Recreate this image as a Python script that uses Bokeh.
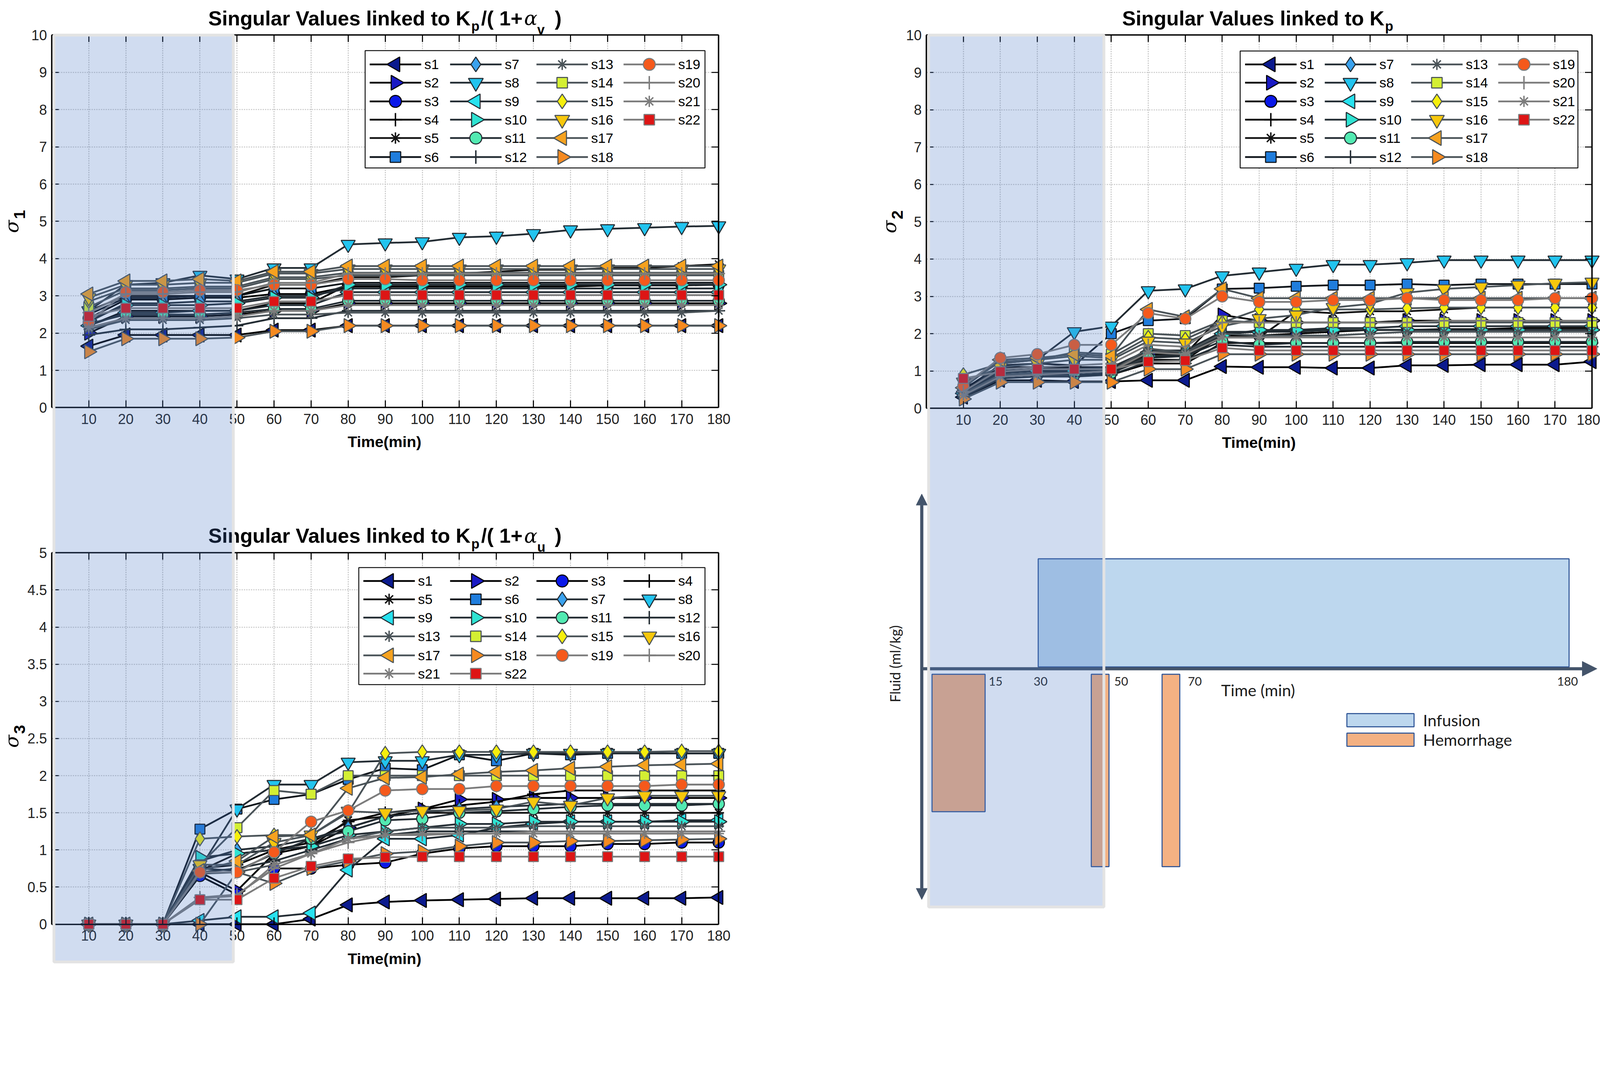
import math
from bokeh.plotting import figure
from bokeh.models import (Range1d, LinearAxis, FixedTicker, Grid, Legend, LegendItem,
                          CustomJSTickFormatter, Arrow, NormalHead)
from bokeh.core.properties import value
from bokeh.embed import file_html
from bokeh.resources import INLINE

# ---------------------------------------------------------------- data
time_min = [10, 20, 30, 40, 50, 60, 70, 80, 90, 100, 110, 120, 130, 140, 150, 160, 170, 180]
series_names = ["s%d" % i for i in range(1, 23)]
x_tick_values = [10, 20, 30, 40, 50, 60, 70, 80, 90, 100, 110, 120, 130, 140, 150, 160, 170, 180]
y_ticks_sigma12 = [0, 1, 2, 3, 4, 5, 6, 7, 8, 9, 10]
y_ticks_sigma3 = [0, 0.5, 1, 1.5, 2, 2.5, 3, 3.5, 4, 4.5, 5]

# sigma 1 : Kp/(1+alpha_v)
sig1_s1 = [1.65, 1.95, 1.95, 1.95, 1.95, 2.08, 2.08, 2.2, 2.2, 2.2, 2.2, 2.2, 2.2, 2.2, 2.2, 2.2, 2.2, 2.2]
sig1_s2 = [2.0, 2.45, 2.45, 2.45, 2.5, 2.6, 2.6, 2.8, 2.8, 2.8, 2.8, 2.8, 2.8, 2.8, 2.8, 2.8, 2.8, 2.8]
sig1_s3 = [2.4, 2.9, 2.9, 2.95, 2.95, 3.05, 3.05, 3.25, 3.25, 3.25, 3.25, 3.25, 3.25, 3.25, 3.28, 3.28, 3.28, 3.3]
sig1_s4 = [2.2, 2.6, 2.6, 2.6, 2.6, 2.8, 2.8, 3.3, 3.3, 3.3, 3.3, 3.3, 3.3, 3.3, 3.3, 3.3, 3.3, 3.3]
sig1_s5 = [2.6, 3.0, 3.0, 3.0, 3.0, 3.3, 3.3, 3.5, 3.5, 3.55, 3.6, 3.65, 3.7, 3.7, 3.75, 3.75, 3.8, 3.85]
sig1_s6 = [2.5, 2.95, 2.95, 3.0, 3.0, 3.2, 3.2, 3.35, 3.35, 3.35, 3.35, 3.35, 3.35, 3.35, 3.35, 3.35, 3.35, 3.35]
sig1_s7 = [2.3, 2.8, 2.8, 2.85, 2.85, 3.0, 3.0, 3.2, 3.2, 3.2, 3.2, 3.2, 3.2, 3.2, 3.2, 3.2, 3.2, 3.2]
sig1_s8 = [2.6, 3.3, 3.35, 3.55, 3.45, 3.75, 3.75, 4.38, 4.42, 4.45, 4.57, 4.6, 4.67, 4.77, 4.8, 4.83, 4.86, 4.88]
sig1_s9 = [2.2, 2.55, 2.55, 2.6, 2.6, 2.75, 2.75, 3.1, 3.1, 3.1, 3.1, 3.1, 3.1, 3.1, 3.1, 3.1, 3.1, 3.1]
sig1_s10 = [2.35, 2.75, 2.75, 2.75, 2.8, 2.95, 2.95, 3.3, 3.3, 3.3, 3.3, 3.3, 3.3, 3.3, 3.3, 3.3, 3.3, 3.3]
sig1_s11 = [2.25, 2.5, 2.5, 2.5, 2.55, 2.65, 2.65, 2.87, 2.87, 2.87, 2.87, 2.87, 2.87, 2.87, 2.87, 2.87, 2.87, 2.87]
sig1_s12 = [1.95, 2.1, 2.1, 2.15, 2.2, 2.4, 2.4, 2.6, 2.6, 2.6, 2.6, 2.6, 2.6, 2.6, 2.6, 2.6, 2.6, 2.6]
sig1_s13 = [2.1, 2.35, 2.35, 2.35, 2.4, 2.5, 2.5, 2.55, 2.55, 2.55, 2.55, 2.55, 2.55, 2.55, 2.55, 2.55, 2.55, 2.6]
sig1_s14 = [2.7, 3.15, 3.15, 3.2, 3.2, 3.45, 3.45, 3.55, 3.55, 3.55, 3.55, 3.55, 3.55, 3.55, 3.55, 3.55, 3.55, 3.55]
sig1_s15 = [2.85, 3.2, 3.2, 3.25, 3.25, 3.5, 3.5, 3.62, 3.62, 3.62, 3.62, 3.62, 3.62, 3.62, 3.62, 3.62, 3.62, 3.62]
sig1_s16 = [2.95, 3.3, 3.3, 3.35, 3.35, 3.6, 3.6, 3.72, 3.72, 3.72, 3.72, 3.72, 3.72, 3.72, 3.72, 3.72, 3.72, 3.72]
sig1_s17 = [3.05, 3.4, 3.4, 3.45, 3.4, 3.65, 3.65, 3.8, 3.8, 3.8, 3.8, 3.8, 3.8, 3.8, 3.8, 3.8, 3.8, 3.8]
sig1_s18 = [1.5, 1.85, 1.85, 1.85, 1.88, 2.05, 2.05, 2.2, 2.2, 2.2, 2.2, 2.2, 2.2, 2.2, 2.2, 2.2, 2.2, 2.2]
sig1_s19 = [2.3, 3.1, 3.1, 3.15, 3.15, 3.3, 3.3, 3.45, 3.45, 3.42, 3.42, 3.42, 3.42, 3.42, 3.42, 3.42, 3.42, 3.42]
sig1_s20 = [2.55, 3.05, 3.05, 3.1, 3.1, 3.35, 3.35, 3.6, 3.6, 3.6, 3.6, 3.6, 3.6, 3.6, 3.6, 3.6, 3.6, 3.6]
sig1_s21 = [2.15, 2.4, 2.4, 2.4, 2.45, 2.6, 2.6, 2.75, 2.75, 2.75, 2.75, 2.75, 2.75, 2.75, 2.75, 2.75, 2.75, 2.75]
sig1_s22 = [2.45, 2.67, 2.67, 2.67, 2.67, 2.85, 2.85, 3.02, 3.02, 3.02, 3.02, 3.02, 3.02, 3.02, 3.02, 3.02, 3.02, 3.02]

# sigma 2 : Kp
sig2_s1 = [0.3, 0.75, 0.75, 0.72, 0.72, 0.75, 0.75, 1.12, 1.1, 1.1, 1.08, 1.08, 1.15, 1.15, 1.17, 1.17, 1.17, 1.25]
sig2_s2 = [0.45, 1.1, 1.1, 1.1, 1.1, 1.45, 1.45, 2.5, 2.35, 2.3, 2.3, 2.3, 2.35, 2.35, 2.35, 2.35, 2.35, 2.35]
sig2_s3 = [0.5, 0.9, 0.95, 1.0, 1.0, 1.3, 1.3, 1.95, 1.95, 2.0, 2.05, 2.1, 2.1, 2.12, 2.12, 2.15, 2.15, 2.15]
sig2_s4 = [0.4, 0.85, 0.9, 0.9, 0.9, 1.2, 1.2, 1.75, 1.75, 1.75, 1.75, 1.75, 1.75, 1.75, 1.75, 1.75, 1.75, 1.75]
sig2_s5 = [0.55, 1.0, 1.05, 1.1, 1.1, 1.4, 1.4, 1.9, 1.9, 2.6, 2.55, 2.6, 2.6, 2.65, 2.7, 2.7, 2.7, 2.7]
sig2_s6 = [0.5, 1.15, 1.2, 1.15, 2.0, 2.35, 2.4, 3.2, 3.22, 3.27, 3.3, 3.3, 3.33, 3.3, 3.33, 3.33, 3.33, 3.33]
sig2_s7 = [0.45, 1.0, 1.05, 1.05, 1.1, 1.55, 1.55, 2.05, 2.05, 2.05, 2.1, 2.1, 2.1, 2.1, 2.1, 2.1, 2.1, 2.1]
sig2_s8 = [0.35, 1.2, 1.3, 2.05, 2.2, 3.15, 3.2, 3.55, 3.65, 3.75, 3.85, 3.85, 3.9, 3.97, 3.97, 3.97, 3.97, 3.97]
sig2_s9 = [0.4, 0.95, 1.0, 1.0, 1.05, 1.5, 1.5, 2.0, 2.05, 2.1, 2.15, 2.15, 2.2, 2.2, 2.2, 2.2, 2.2, 2.2]
sig2_s10 = [0.35, 0.9, 0.95, 0.95, 1.0, 1.4, 1.45, 1.95, 2.1, 2.1, 2.1, 2.1, 2.1, 2.1, 2.1, 2.1, 2.1, 2.1]
sig2_s11 = [0.35, 0.85, 0.9, 0.9, 0.95, 1.35, 1.4, 1.8, 1.7, 1.75, 1.75, 1.75, 1.78, 1.78, 1.78, 1.78, 1.78, 1.78]
sig2_s12 = [0.3, 0.8, 0.85, 0.85, 0.9, 1.25, 1.3, 1.7, 1.65, 1.65, 1.65, 1.65, 1.65, 1.65, 1.65, 1.65, 1.65, 1.65]
sig2_s13 = [0.4, 0.9, 0.95, 0.95, 1.0, 1.6, 1.5, 2.0, 1.95, 1.95, 1.95, 2.0, 2.05, 2.05, 2.05, 2.05, 2.05, 2.05]
sig2_s14 = [0.6, 1.25, 1.3, 1.5, 1.45, 2.0, 1.95, 2.35, 2.3, 2.3, 2.3, 2.3, 2.3, 2.3, 2.3, 2.3, 2.3, 2.3]
sig2_s15 = [0.9, 1.2, 1.3, 1.4, 1.35, 1.9, 1.85, 2.3, 2.65, 2.65, 2.65, 2.65, 2.68, 2.7, 2.7, 2.7, 2.7, 2.7]
sig2_s16 = [0.7, 1.1, 1.2, 1.3, 1.3, 1.8, 1.75, 2.2, 2.4, 2.5, 2.7, 2.8, 3.1, 3.2, 3.25, 3.3, 3.35, 3.38]
sig2_s17 = [0.55, 1.3, 1.35, 1.45, 1.4, 2.65, 2.45, 3.2, 2.95, 2.95, 2.95, 2.95, 2.95, 2.95, 2.95, 2.95, 2.95, 2.95]
sig2_s18 = [0.25, 0.7, 0.7, 0.7, 0.7, 1.05, 1.05, 1.45, 1.45, 1.45, 1.45, 1.45, 1.45, 1.45, 1.45, 1.45, 1.45, 1.45]
sig2_s19 = [0.6, 1.35, 1.45, 1.7, 1.7, 2.55, 2.4, 3.0, 2.85, 2.85, 2.9, 2.9, 2.95, 2.9, 2.9, 2.9, 2.95, 2.95]
sig2_s20 = [0.45, 1.05, 1.1, 1.15, 1.2, 1.7, 1.65, 2.3, 2.3, 2.3, 2.3, 2.3, 2.3, 2.35, 2.35, 2.35, 2.35, 2.35]
sig2_s21 = [0.35, 0.85, 0.9, 0.95, 1.0, 1.5, 1.45, 1.9, 1.9, 1.9, 1.9, 1.9, 1.9, 1.9, 1.9, 1.9, 1.9, 1.9]
sig2_s22 = [0.8, 0.98, 1.05, 1.05, 1.05, 1.25, 1.28, 1.62, 1.55, 1.55, 1.55, 1.55, 1.55, 1.55, 1.55, 1.55, 1.55, 1.55]

# sigma 3 : Kp/(1+alpha_u)
sig3_s1 = [0, 0, 0, 0, 0, 0, 0.07, 0.26, 0.3, 0.32, 0.33, 0.34, 0.35, 0.35, 0.35, 0.35, 0.35, 0.36]
sig3_s2 = [0, 0, 0, 0.7, 0.45, 0.95, 1.05, 1.3, 1.45, 1.55, 1.68, 1.68, 1.7, 1.7, 1.7, 1.7, 1.7, 1.7]
sig3_s3 = [0, 0, 0, 0.65, 0.4, 0.75, 0.75, 0.8, 0.83, 0.95, 1.02, 1.05, 1.05, 1.05, 1.08, 1.08, 1.1, 1.1]
sig3_s4 = [0, 0, 0, 0.75, 0.8, 1.0, 1.1, 1.38, 1.5, 1.55, 1.6, 1.65, 1.75, 1.8, 1.8, 1.8, 1.8, 1.8]
sig3_s5 = [0, 0, 0, 0.72, 0.95, 1.0, 1.05, 1.4, 1.45, 1.5, 1.5, 1.5, 1.5, 1.5, 1.5, 1.5, 1.5, 1.5]
sig3_s6 = [0, 0, 0, 1.28, 1.55, 1.68, 1.75, 1.95, 2.1, 2.08, 2.28, 2.2, 2.3, 2.28, 2.3, 2.3, 2.3, 2.3]
sig3_s7 = [0, 0, 0, 0.85, 1.0, 1.05, 1.15, 1.3, 1.45, 1.5, 1.55, 1.58, 1.6, 1.62, 1.62, 1.62, 1.62, 1.62]
sig3_s8 = [0, 0, 0, 0.75, 1.55, 1.88, 1.88, 2.18, 2.2, 2.2, 2.28, 2.28, 2.3, 2.3, 2.3, 2.3, 2.3, 2.3]
sig3_s9 = [0, 0, 0, 0.05, 0.1, 0.1, 0.15, 0.73, 1.15, 1.15, 1.2, 1.3, 1.35, 1.38, 1.38, 1.38, 1.4, 1.4]
sig3_s10 = [0, 0, 0, 0.9, 0.95, 1.0, 1.05, 1.2, 1.25, 1.3, 1.35, 1.35, 1.38, 1.38, 1.38, 1.38, 1.38, 1.38]
sig3_s11 = [0, 0, 0, 0.75, 0.72, 0.95, 1.15, 1.25, 1.4, 1.42, 1.5, 1.52, 1.55, 1.58, 1.6, 1.6, 1.6, 1.62]
sig3_s12 = [0, 0, 0, 0.7, 0.75, 0.85, 1.0, 1.15, 1.2, 1.25, 1.25, 1.25, 1.25, 1.25, 1.25, 1.25, 1.25, 1.25]
sig3_s13 = [0, 0, 0, 0.68, 0.7, 0.8, 0.95, 1.15, 1.25, 1.3, 1.3, 1.3, 1.32, 1.32, 1.32, 1.32, 1.32, 1.32]
sig3_s14 = [0, 0, 0, 0.8, 1.3, 1.8, 1.75, 2.0, 2.0, 2.0, 2.0, 2.0, 2.0, 2.0, 2.0, 2.0, 2.0, 2.0]
sig3_s15 = [0, 0, 0, 1.15, 1.18, 1.2, 1.2, 1.5, 2.3, 2.32, 2.32, 2.32, 2.32, 2.32, 2.32, 2.32, 2.33, 2.33]
sig3_s16 = [0, 0, 0, 0.8, 0.8, 1.1, 1.2, 1.52, 1.5, 1.53, 1.53, 1.55, 1.65, 1.6, 1.7, 1.73, 1.73, 1.73]
sig3_s17 = [0, 0, 0, 0.72, 0.85, 1.18, 1.2, 1.83, 1.97, 1.98, 2.02, 2.05, 2.07, 2.1, 2.12, 2.14, 2.15, 2.16]
sig3_s18 = [0, 0, 0, 0, 0.7, 0.55, 0.75, 0.85, 0.95, 0.98, 1.05, 1.1, 1.1, 1.12, 1.12, 1.13, 1.14, 1.15]
sig3_s19 = [0, 0, 0, 0.7, 0.7, 0.97, 1.38, 1.53, 1.8, 1.82, 1.82, 1.86, 1.86, 1.86, 1.86, 1.86, 1.88, 1.88]
sig3_s20 = [0, 0, 0, 0.36, 0.4, 0.75, 0.95, 1.1, 1.2, 1.2, 1.22, 1.22, 1.25, 1.25, 1.25, 1.25, 1.25, 1.25]
sig3_s21 = [0, 0, 0, 0.35, 0.38, 0.8, 0.95, 1.15, 1.2, 1.22, 1.22, 1.22, 1.22, 1.22, 1.22, 1.22, 1.22, 1.22]
sig3_s22 = [0, 0, 0, 0.33, 0.33, 0.62, 0.78, 0.88, 0.9, 0.91, 0.91, 0.91, 0.91, 0.91, 0.91, 0.91, 0.91, 0.91]

# protocol schematic (time in min, fluid in arbitrary ml/kg units)
infusion_start = [30]
infusion_end = [180]
infusion_level = [3.0]
hemorrhage_start = [0, 45, 65]
hemorrhage_end = [15, 50, 70]
hemorrhage_level = [-3.9, -5.4, -5.4]
schematic_ticks = [15, 30, 50, 70, 180]

# highlighted window (min)
band_start = [0.6]
band_end_left = [49]
band_end_right = [48]

# ---------------------------------------------------------------- styles
L, R = math.pi / 2, -math.pi / 2
MARKERS = ["triangle", "triangle", "circle", "cross", "asterisk", "square",
           "diamond", "inverted_triangle", "triangle", "triangle", "circle", "cross",
           "asterisk", "square", "diamond", "inverted_triangle", "triangle", "triangle",
           "circle", "cross", "asterisk", "square"]
ANGLES = [L, R, 0, 0, 0, 0, 0, 0, L, R, 0, 0, 0, 0, 0, 0, L, R, 0, 0, 0, 0]
FILLS = ["#0b1a8e", "#1a1ac4", "#0a18e8", None, None, "#1f7ddd",
         "#3aa2ee", "#22c4ef", "#27e2ef", "#2fe3d2", "#52eab2", None,
         None, "#d4ef33", "#f6ef0c", "#f7c70c", "#f6a21f", "#f68a20",
         "#f5591b", None, None, "#dd1515"]
LINES = ["#000000"] * 4 + ["#121212", "#0f151b"] + ["#232c33"] * 6 + ["#4a5358"] * 6 + ["#7c7c7c"] * 4
MSIZE = {"triangle": 40, "circle": 32, "cross": 36, "asterisk": 30, "square": 28,
         "diamond": 40, "inverted_triangle": 40}
SANS = "Liberation Sans"

# ---------------------------------------------------------------- page geometry
# the page is photographed at about 1.108 device pixels per CSS pixel; all positions
# below are given in photographed pixels and all sizes are converted with px().
S = 1.108


def px(v):
    return v / S


def fs(v):
    return value("%.1fpx" % (v / S))


W, H = 4096, 2476
X0d, Y0d = 8 * S, 8 * S
X1d, Y1d = (8 + W) * S, (8 + H) * S


def lin(v1, p1, v2, p2, pa, pb):
    k = (v2 - v1) / (p2 - p1)
    return Range1d(start=v1 + (pa - p1) * k, end=v1 + (pb - p1) * k)


p = figure(width=W, height=H, x_range=Range1d(X0d, X1d), y_range=Range1d(Y1d, Y0d),
           output_backend="svg", toolbar_location=None, min_border=0,
           x_axis_type=None, y_axis_type=None, outline_line_color=None,
           background_fill_color="white", border_fill_color="white")
p.title.visible = False

p.extra_x_ranges = {
    "tl_x": lin(0, 155, 180, 2047, X0d, X1d),
    "tr_x": lin(0, 2636, 180, 4524, X0d, X1d),
    "dg_x": lin(0, 2652, 180, 4459, X0d, X1d),
}
p.extra_y_ranges = {
    "tl_y": lin(0, 1165, 10, 108, Y1d, Y0d),
    "tr_y": lin(0, 1167, 10, 108, Y1d, Y0d),
    "bl_y": lin(0, 2631, 5, 1577, Y1d, Y0d),
    "dg_y": lin(0, 1906, 1, 1802, Y1d, Y0d),
}


def add_box(xr, yr, xlo, xhi, ylo, yhi, xticks, yticks, xgrid, ygrid):
    fmt = CustomJSTickFormatter(code="return tick.toString();")
    blank = CustomJSTickFormatter(code="return '';")
    common = dict(axis_line_color="black", axis_line_width=px(4),
                  major_tick_line_color="black", major_tick_line_width=px(3),
                  major_tick_in=round(px(20)), major_tick_out=0, minor_tick_in=0, minor_tick_out=0,
                  major_label_text_font=SANS, major_label_text_font_size="%.1fpx" % px(40),
                  major_label_text_color="#222222",
                  x_range_name=xr, y_range_name=yr)
    grid_style = dict(grid_line_color="#c4c4c4", grid_line_dash="3 3", grid_line_width=px(3))
    p.add_layout(Grid(dimension=0, x_range_name=xr, y_range_name=yr, ticker=FixedTicker(ticks=xgrid),
                      bounds=(xlo, xhi), cross_bounds=(ylo, yhi), **grid_style))
    p.add_layout(Grid(dimension=1, x_range_name=xr, y_range_name=yr, ticker=FixedTicker(ticks=ygrid),
                      bounds=(ylo, yhi), cross_bounds=(xlo, xhi), **grid_style))
    b = LinearAxis(fixed_location=ylo, bounds=(xlo, xhi), ticker=FixedTicker(ticks=xticks),
                   formatter=fmt, major_label_standoff=round(px(18)), **common)
    t = LinearAxis(fixed_location=yhi, bounds=(xlo, xhi), ticker=FixedTicker(ticks=xticks),
                   formatter=blank, **common)
    l = LinearAxis(fixed_location=xlo, bounds=(ylo, yhi), ticker=FixedTicker(ticks=yticks),
                   formatter=fmt, major_label_standoff=round(px(13)), **common)
    r = LinearAxis(fixed_location=xhi, bounds=(ylo, yhi), ticker=FixedTicker(ticks=yticks),
                   formatter=blank, **common)
    p.add_layout(b, "below")
    p.add_layout(t, "above")
    p.add_layout(l, "left")
    p.add_layout(r, "right")


def draw_series(xr, yr, data):
    for i, vals in enumerate(data):
        p.line(time_min, vals, x_range_name=xr, y_range_name=yr,
               line_color=LINES[i], line_width=px(5))
        mk = MARKERS[i]
        p.scatter(time_min, vals, x_range_name=xr, y_range_name=yr, marker=mk,
                  size=px(MSIZE[mk]), angle=ANGLES[i], fill_color=FILLS[i],
                  line_color=LINES[i], line_width=px(4 if FILLS[i] is None else 3))


def draw_key(box, col_x, row_y, column_major):
    """Legend box drawn in page pixels: box=(left, top, right, bottom)."""
    left, top, right, bottom = box
    p.quad(left=[left], right=[right], top=[top], bottom=[bottom],
           fill_color="white", line_color="black", line_width=px(2.5))
    for i, name in enumerate(series_names):
        if column_major:
            c, r = divmod(i, 6)
        else:
            r, c = divmod(i, 4)
        x0, y0 = col_x[c], row_y[r]
        p.segment(x0=[x0], y0=[y0], x1=[x0 + 146], y1=[y0], line_color=LINES[i], line_width=px(5))
        mk = MARKERS[i]
        p.scatter(x=[x0 + 73], y=[y0], marker=mk, size=px(MSIZE[mk] + 2), angle=ANGLES[i],
                  fill_color=FILLS[i], line_color=LINES[i],
                  line_width=px(4 if FILLS[i] is None else 3))
        p.text(x=[x0 + 155], y=[y0], text=[name], text_font=value(SANS), text_font_size=fs(39),
               text_color="black", text_align="left", text_baseline="middle")


def txt(x, y, s, size, font=SANS, style="normal", align="left", baseline="alphabetic",
        color="black", angle=0.0, xr=None):
    kw = {"x_range_name": xr} if xr else {}
    p.text(x=[x], y=[y], text=[s], text_font=value(font), text_font_size=fs(size),
           text_font_style=style, text_align=align, text_baseline=baseline,
           text_color=color, angle=angle, **kw)


sig1 = [sig1_s1, sig1_s2, sig1_s3, sig1_s4, sig1_s5, sig1_s6, sig1_s7, sig1_s8, sig1_s9, sig1_s10, sig1_s11,
        sig1_s12, sig1_s13, sig1_s14, sig1_s15, sig1_s16, sig1_s17, sig1_s18, sig1_s19, sig1_s20, sig1_s21, sig1_s22]
sig2 = [sig2_s1, sig2_s2, sig2_s3, sig2_s4, sig2_s5, sig2_s6, sig2_s7, sig2_s8, sig2_s9, sig2_s10, sig2_s11,
        sig2_s12, sig2_s13, sig2_s14, sig2_s15, sig2_s16, sig2_s17, sig2_s18, sig2_s19, sig2_s20, sig2_s21, sig2_s22]
sig3 = [sig3_s1, sig3_s2, sig3_s3, sig3_s4, sig3_s5, sig3_s6, sig3_s7, sig3_s8, sig3_s9, sig3_s10, sig3_s11,
        sig3_s12, sig3_s13, sig3_s14, sig3_s15, sig3_s16, sig3_s17, sig3_s18, sig3_s19, sig3_s20, sig3_s21, sig3_s22]

xgrid = x_tick_values[:-1]
add_box("tl_x", "tl_y", 0, 180, 0, 10, x_tick_values, y_ticks_sigma12, xgrid, y_ticks_sigma12[1:-1])
add_box("tr_x", "tr_y", 0, 180, 0, 10, x_tick_values, y_ticks_sigma12, xgrid, y_ticks_sigma12[1:-1])
add_box("tl_x", "bl_y", 0, 180, 0, 5, x_tick_values, y_ticks_sigma3, xgrid, y_ticks_sigma3[1:-1])

draw_series("tl_x", "tl_y", sig1)
draw_series("tr_x", "tr_y", sig2)
draw_series("tl_x", "bl_y", sig3)

rows_top = [191, 243, 296, 348, 400, 454]
draw_key((1044, 152, 2008, 485), [1057, 1285, 1530, 1777], rows_top, True)
draw_key((3526, 153, 4484, 485), [3540, 3766, 4011, 4258], rows_top, True)
draw_key((1026, 1619, 2008, 1951), [1039, 1285, 1530, 1777], [1657, 1709, 1761, 1814, 1868, 1920], False)

# ---------------------------------------------------------------- titles & labels
for base, sub in ((60, "v"), (1529, "u")):
    txt(1343, base, "Singular Values linked to K", 58, style="bold", align="right")
    txt(1345, base + 23, "p", 38, style="bold")
    txt(1373, base, "/( 1+", 58, style="bold")
    txt(1495, base, "\u03b1", 56, font="DejaVu Serif", style="italic")
    txt(1532, base + 32, sub, 38, style="bold")
    txt(1582, base, ")", 58, style="bold")
txt(3935, 60, "Singular Values linked to K", 58, style="bold", align="right")
txt(3937, 83, "p", 38, style="bold")

for (sx, sy, d) in ((42, 651, "1"), (2531, 652, "2"), (42, 2112, "3")):
    txt(sx, sy, "\u03c3", 54, font="DejaVu Serif", style="italic", align="center",
        baseline="middle", angle=math.pi / 2)
    txt(sx + 22, sy - 34, d, 46, style="bold", align="center", baseline="middle", angle=math.pi / 2)

for (cx, cy) in ((1099, 1262), (3579, 1264), (1099, 2728)):
    txt(cx, cy, "Time(min)", 44, style="bold", align="center", baseline="middle")

# ---------------------------------------------------------------- protocol schematic
inf_r = p.quad(left=infusion_start, right=infusion_end, bottom=[0.05], top=infusion_level,
               x_range_name="dg_x", y_range_name="dg_y",
               fill_color="#bdd7ee", line_color="#2f5597", line_width=px(3))
hem_r = p.quad(left=hemorrhage_start, right=hemorrhage_end, top=[-0.15] * len(hemorrhage_start),
               bottom=hemorrhage_level, x_range_name="dg_x", y_range_name="dg_y",
               fill_color="#f4b183", line_color="#2f5597", line_width=px(3))

AX = "#44546a"
p.add_layout(Arrow(x_start=-2.9, y_start=0, x_end=187.9, y_end=0,
                   x_range_name="dg_x", y_range_name="dg_y", line_color=AX, line_width=px(9),
                   end=NormalHead(size=px(42), fill_color=AX, line_color=AX), start=None))
p.add_layout(Arrow(x_start=-2.9, y_start=-6.3, x_end=-2.9, y_end=4.77,
                   x_range_name="dg_x", y_range_name="dg_y", line_color=AX, line_width=px(9),
                   end=NormalHead(size=px(32), fill_color=AX, line_color=AX),
                   start=NormalHead(size=px(32), fill_color=AX, line_color=AX)))

p.text(x=schematic_ticks, y=[1942] * len(schematic_ticks), text=[str(t) for t in schematic_ticks],
       x_range_name="dg_x", x_offset=[px(v) for v in (10, -13, 15, 23, -34)],
       text_font=value("Lato"), text_font_size=fs(34), text_color="#262626",
       text_align="left", text_baseline="middle")
txt(3472, 1966, "Time (min)", 46, font="Lato", baseline="middle", color="#1a1a1a")
txt(2547, 1892, "Fluid (ml/kg)", 40, font="Lato", align="center", baseline="middle",
    color="#1a1a1a", angle=math.pi / 2)

dleg = Legend(items=[LegendItem(label="Infusion", renderers=[inf_r]),
                     LegendItem(label="Hemorrhage", renderers=[hem_r])],
              location=(3805 / S - 8, (Y1d - 2135) / S),
              glyph_width=round(px(238)), glyph_height=round(px(46)),
              spacing=-3, padding=0, margin=0, label_standoff=2,
              label_text_font="Lato", label_text_font_size="%.1fpx" % px(46),
              label_text_color="#1a1a1a",
              border_line_color=None, background_fill_alpha=0.0)
p.add_layout(dleg)

# ---------------------------------------------------------------- highlighted window overlay
p.quad(left=band_start, right=band_end_left, top=[108], bottom=[2738], x_range_name="tl_x",
       fill_color="#4472c4", fill_alpha=0.25, line_color="#e3e3e3", line_width=px(8), level="overlay")
p.quad(left=band_start, right=band_end_right, top=[108], bottom=[2582], x_range_name="tr_x",
       fill_color="#4472c4", fill_alpha=0.25, line_color="#e3e3e3", line_width=px(8), level="overlay")

open("out.html", "w").write(file_html(p, INLINE))
